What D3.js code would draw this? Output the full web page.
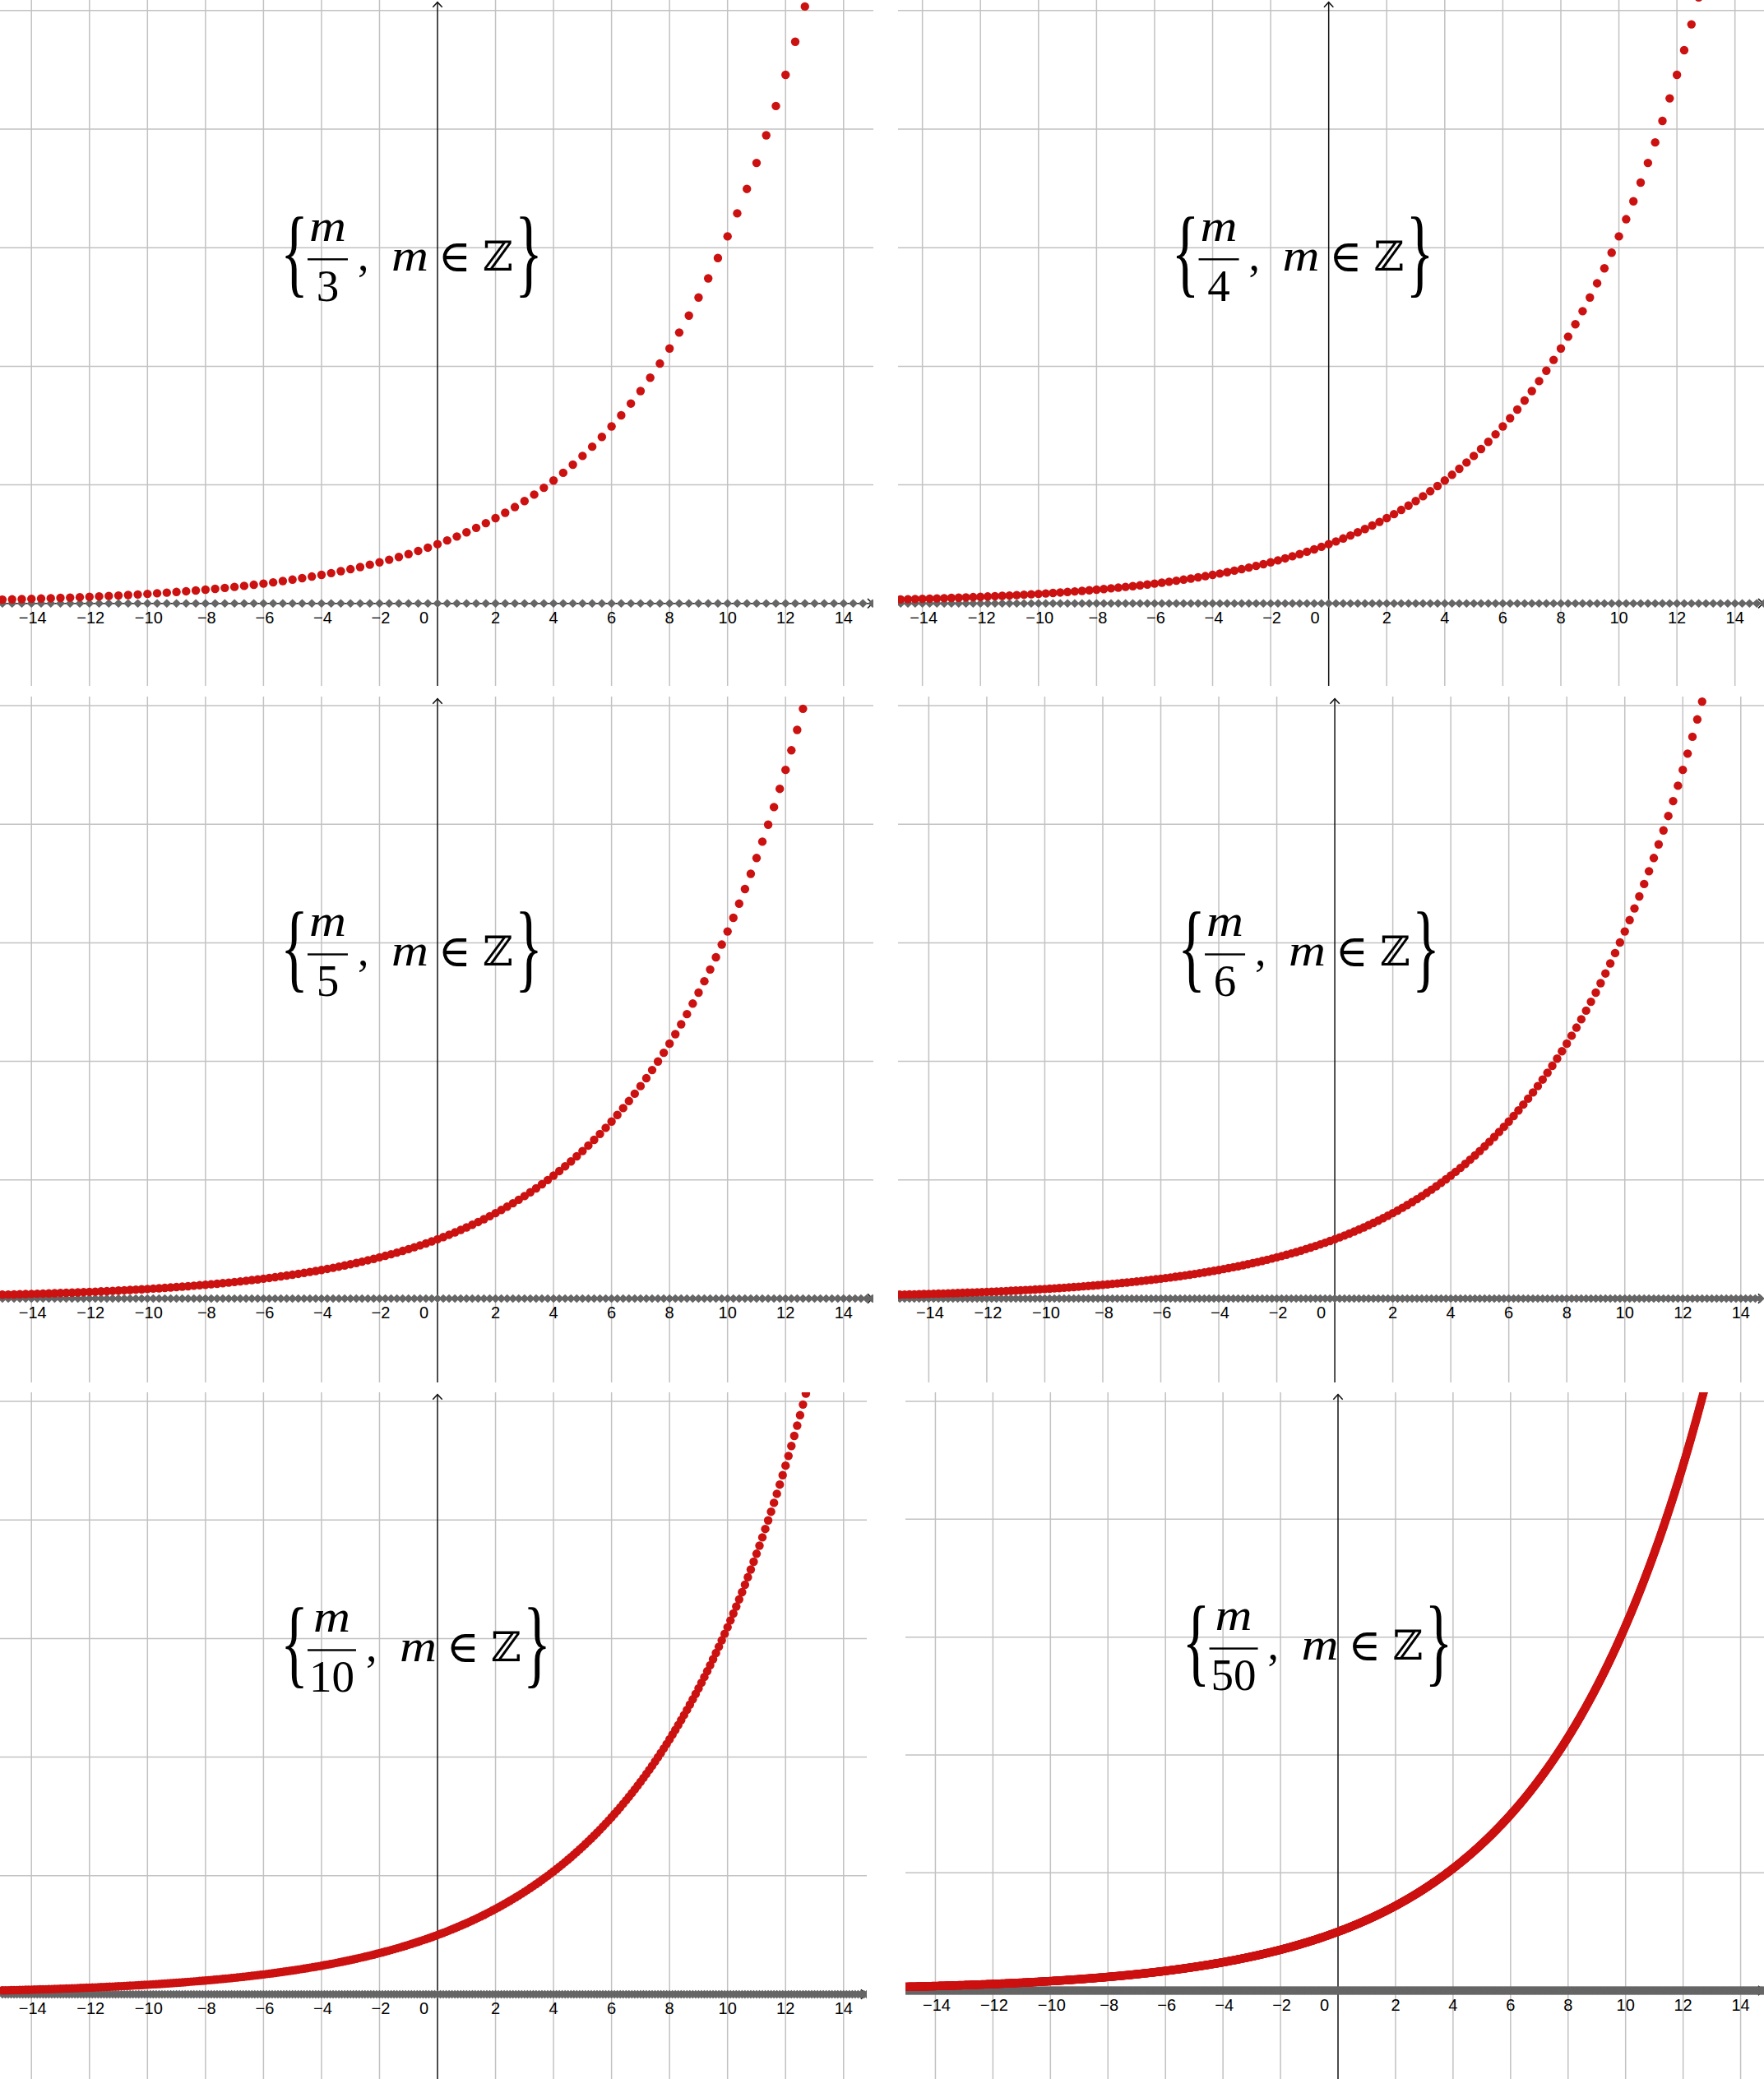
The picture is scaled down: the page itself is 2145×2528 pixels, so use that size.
<!DOCTYPE html>
<html><head><meta charset="utf-8">
<script src="https://cdn.jsdelivr.net/npm/d3@7"></script>
<style>html,body{margin:0;padding:0;background:#fff;} svg{display:block}</style>
</head><body>
<svg id="chart" width="2145" height="2528"></svg>
<script>
// ---------------- data ----------------
const denominators = [3, 4, 5, 6, 10, 50];      // points m/n, m in Z
const base = 1.2;                                // red points: (x, 1.2^x); gray: (x, 0)
const xTicks = [-14, -12, -10, -8, -6, -4, -2, 0, 2, 4, 6, 8, 10, 12, 14];
const yGrid = [2, 4, 6, 8, 10];
const xDomains = [[-15.084, 15.027], [-14.84, 15.0], [-15.084, 15.027], [-15.06, 14.80], [-15.084, 14.80], [-15.042, 14.813]];
const yDomains = [[-1.390, 10.178], [-1.390, 10.178], [-1.415, 10.153], [-1.415, 10.153], [-1.429, 10.153], [-1.500, 10.154]];
const labelAnchor = [-5.36, 5.62];               // world position of label (left of brace, baseline)

// ---------------- layout ----------------
const panelRects = [[0, 0, 1062, 834], [1092, 0, 2145, 834], [0, 847, 1062, 1681], [1092, 847, 2145, 1681], [0, 1693, 1054, 2528], [1101, 1693, 2145, 2528]];

const svg = d3.select('#chart');
const RED = '#cc1111', GRAY = '#666666', GRID = '#c2c2c2', AXIS = '#111';
const defs = svg.append('defs');

denominators.forEach((n, i) => {
  const [x0, y0, x1, y1] = panelRects[i];
  const xs = d3.scaleLinear().domain(xDomains[i]).range([x0, x1]);
  const ys = d3.scaleLinear().domain(yDomains[i]).range([y1, y0]);
  const ox = xs(0), oy = ys(0);

  defs.append('clipPath').attr('id', 'clip' + i)
    .append('rect').attr('x', x0).attr('y', y0).attr('width', x1 - x0).attr('height', y1 - y0);
  const g = svg.append('g').attr('clip-path', `url(#clip${i})`);

  // grid
  g.append('g').selectAll('line').data(xTicks.filter(t => t !== 0)).join('line')
    .attr('x1', d => xs(d)).attr('x2', d => xs(d)).attr('y1', y0).attr('y2', y1)
    .attr('stroke', GRID).attr('stroke-width', 1.5);
  g.append('g').selectAll('line').data(yGrid).join('line')
    .attr('y1', d => ys(d)).attr('y2', d => ys(d)).attr('x1', x0).attr('x2', x1)
    .attr('stroke', GRID).attr('stroke-width', 1.5);

  // axes
  g.append('line').attr('x1', ox).attr('x2', ox).attr('y1', y0 + 2.5).attr('y2', y1)
    .attr('stroke', AXIS).attr('stroke-width', 1.5);
  g.append('path').attr('d', `M${ox - 5.7},${y0 + 8.7}L${ox},${y0 + 2.7}L${ox + 5.7},${y0 + 8.7}`)
    .attr('fill', 'none').attr('stroke', AXIS).attr('stroke-width', 1.5);
  g.append('line').attr('x1', x0).attr('x2', x1 - 1).attr('y1', oy).attr('y2', oy)
    .attr('stroke', AXIS).attr('stroke-width', 1.5);
  g.append('path').attr('d', `M${x1 - 7},${oy - 5.7}L${x1 - 1.2},${oy}L${x1 - 7},${oy + 5.7}`)
    .attr('fill', 'none').attr('stroke', AXIS).attr('stroke-width', 1.5);

  // tick labels
  g.append('g').selectAll('text').data(xTicks).join('text')
    .attr('x', d => d === 0 ? ox - 16.5 : xs(d) + (d < 0 ? 1.5 : 0))
    .attr('y', oy + 24)
    .attr('text-anchor', 'middle')
    .attr('font-family', "'Liberation Sans', Arial, sans-serif")
    .attr('font-size', 20)
    .attr('fill', '#000')
    .text(d => d < 0 ? '\u2212' + Math.abs(d) : String(d));

  // points m/n
  const mMin = Math.ceil(xDomains[i][0] * n), mMax = Math.floor(xDomains[i][1] * n);
  const pts = d3.range(mMin, mMax + 1).map(m => ({x: m / n, y: Math.pow(base, m / n)}));
  const hw = 5.6, hh = 5.3;
  g.append('g').selectAll('path').data(pts).join('path')
    .attr('d', d => `M${xs(d.x)},${ys(0) - hh}L${xs(d.x) + hw},${ys(0)}L${xs(d.x)},${ys(0) + hh}L${xs(d.x) - hw},${ys(0)}Z`)
    .attr('fill', GRAY);
  g.append('g').selectAll('circle').data(pts.filter(d => d.y <= yDomains[i][1] + 0.2)).join('circle')
    .attr('cx', d => xs(d.x)).attr('cy', d => ys(d.y)).attr('r', 5.2)
    .attr('fill', RED);

  // label  { m/n , m ∈ Z }
  const L = xs(labelAnchor[0]), B = ys(labelAnchor[1]);
  const lab = svg.append('g').attr('fill', '#000');
  const serif = "'Liberation Serif', 'DejaVu Serif', serif";
  lab.append('text').text('{').attr('font-family', serif).attr('font-size', 118)
    .attr('transform', `translate(${L - 2},${B + 17}) scale(0.6,1)`);
  const den = lab.append('text').text(String(n)).attr('font-family', serif).attr('font-size', 55)
    .attr('text-anchor', 'middle');
  const denW = den.node().getComputedTextLength();
  const fracStart = L + 31, fracW = Math.max(45, denW) + 4, fracEnd = fracStart + fracW;
  den.attr('x', fracStart + fracW / 2).attr('y', B + 37.5);
  lab.append('rect').attr('x', fracStart).attr('y', B - 14.5).attr('width', fracW).attr('height', 2.4);
  lab.append('text').text('m').attr('font-family', serif).attr('font-style', 'italic').attr('font-size', 54)
    .attr('x', fracStart + fracW / 2 - 22.5).attr('y', B - 36)
    .attr('textLength', 45).attr('lengthAdjust', 'spacingAndGlyphs');
  lab.append('text').text(',').attr('font-family', serif).attr('font-size', 54)
    .attr('x', fracEnd + 12).attr('y', B);
  lab.append('text').text('m').attr('font-family', serif).attr('font-style', 'italic').attr('font-size', 54)
    .attr('x', fracEnd + 53).attr('y', B)
    .attr('textLength', 45).attr('lengthAdjust', 'spacingAndGlyphs');
  lab.append('text').text('\u2208').attr('font-family', "'DejaVu Serif', 'DejaVu Sans', serif").attr('font-size', 54)
    .attr('x', fracEnd + 110).attr('y', B + 1);
  lab.append('text').text('\u2124').attr('font-family', "'DejaVu Serif', 'DejaVu Sans', serif").attr('font-size', 50)
    .attr('x', fracEnd + 164).attr('y', B);
  lab.append('text').text('}').attr('font-family', serif).attr('font-size', 118)
    .attr('transform', `translate(${fracEnd + 203},${B + 17}) scale(0.6,1)`);
});
</script>
</body></html>
